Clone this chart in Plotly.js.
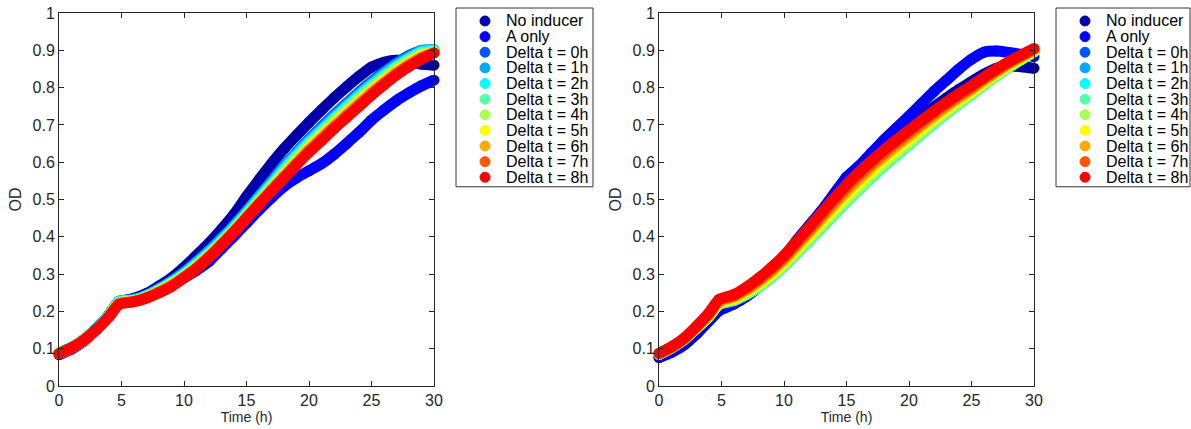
<!DOCTYPE html>
<html><head><meta charset="utf-8">
<script src="https://cdn.plot.ly/plotly-3.0.1.min.js"></script>
<style>html,body{margin:0;padding:0;background:#fff;}#chart{width:1191px;height:429px;}</style>
</head><body><div id="chart"></div>
<script>
// time points (h)
const hours = [0,1,2,3,4,4.8,6,7,8,9,10,11,12,13,14,15,16,17,18,19,20,21,22,23,24,25,26,27,28,29,30];

const seriesNames = ["No inducer","A only","Delta t = 0h","Delta t = 1h","Delta t = 2h","Delta t = 3h","Delta t = 4h","Delta t = 5h","Delta t = 6h","Delta t = 7h","Delta t = 8h"];
const seriesColors = ["rgb(0,0,170)","rgb(0,0,255)","rgb(0,85,255)","rgb(0,170,255)","rgb(0,255,255)","rgb(85,255,170)","rgb(170,255,85)","rgb(255,255,0)","rgb(255,170,0)","rgb(255,85,0)","rgb(255,0,0)"];
const xTicks = [0,5,10,15,20,25,30];

// ---- left panel OD ----
const L_noInducer = [.085,.1,.122,.152,.19,.224,.235,.248,.268,.29,.318,.35,.383,.42,.46,.508,.553,.596,.636,.672,.707,.74,.772,.802,.83,.855,.868,.873,.87,.863,.86];
const L_aOnly     = [.084,.099,.121,.152,.19,.225,.233,.243,.256,.272,.29,.31,.334,.368,.402,.437,.472,.505,.535,.558,.577,.596,.621,.65,.68,.713,.74,.765,.786,.805,.82];
const L_d0h = [.088,.103,.125,.155,.19,.227,.232,.244,.262,.282,.306,.334,.364,.397,.432,.47,.51,.55,.59,.627,.662,.695,.727,.758,.788,.816,.842,.866,.886,.9,.901];
const L_d1h = [.088,.103,.125,.155,.19,.227,.231,.243,.26,.28,.303,.331,.361,.394,.429,.467,.507,.546,.586,.623,.658,.69,.722,.753,.783,.811,.838,.862,.882,.899,.902];
const L_d2h = [.088,.103,.124,.154,.189,.226,.23,.241,.258,.278,.3,.328,.357,.39,.425,.463,.503,.541,.581,.618,.653,.685,.717,.748,.778,.806,.833,.857,.878,.896,.9];
const L_d3h = [.088,.103,.124,.153,.188,.224,.229,.24,.257,.276,.298,.325,.354,.387,.421,.459,.498,.537,.576,.613,.648,.68,.712,.743,.773,.801,.828,.853,.874,.892,.897];
const L_d4h = [.087,.102,.124,.153,.188,.223,.228,.239,.255,.274,.296,.322,.352,.384,.419,.457,.495,.533,.571,.608,.644,.676,.707,.738,.768,.797,.824,.849,.871,.889,.896];
const L_d5h = [.087,.102,.123,.153,.187,.222,.228,.238,.254,.272,.294,.32,.35,.382,.417,.455,.492,.53,.567,.603,.639,.671,.703,.733,.763,.792,.82,.845,.867,.886,.895];
const L_d6h = [.087,.102,.123,.152,.187,.221,.227,.237,.253,.27,.293,.318,.348,.381,.416,.453,.49,.527,.563,.599,.634,.666,.698,.728,.758,.788,.815,.841,.863,.882,.894];
const L_d7h = [.087,.102,.123,.152,.186,.22,.226,.236,.251,.268,.291,.316,.346,.379,.414,.451,.488,.525,.56,.596,.63,.662,.694,.724,.754,.784,.811,.837,.86,.879,.893];
const L_d8h = [.087,.102,.123,.152,.186,.219,.226,.236,.25,.267,.29,.315,.345,.378,.413,.45,.487,.523,.558,.593,.627,.658,.69,.72,.75,.78,.808,.834,.857,.877,.893];

// ---- right panel OD ----
const R_noInducer = [.076,.09,.11,.14,.175,.202,.22,.24,.266,.298,.337,.383,.425,.465,.505,.548,.58,.612,.642,.67,.695,.722,.748,.772,.795,.816,.836,.852,.858,.856,.852];
const R_aOnly     = [.077,.092,.112,.14,.175,.203,.222,.243,.27,.303,.345,.39,.43,.47,.515,.56,.59,.625,.66,.692,.724,.757,.79,.82,.85,.876,.895,.898,.894,.889,.883];
const R_d0h = [.085,.102,.124,.155,.187,.22,.23,.247,.268,.293,.323,.357,.392,.427,.462,.497,.531,.563,.593,.622,.65,.678,.706,.733,.759,.783,.808,.833,.855,.876,.896];
const R_d1h = [.085,.102,.124,.155,.187,.22,.231,.247,.268,.293,.323,.358,.392,.428,.463,.498,.531,.563,.594,.623,.651,.679,.707,.733,.759,.783,.808,.833,.856,.877,.896];
const R_d2h = [.085,.102,.125,.155,.187,.22,.231,.248,.268,.294,.324,.358,.393,.428,.463,.498,.532,.564,.594,.623,.651,.679,.707,.734,.759,.783,.809,.833,.856,.877,.896];
const R_d3h = [.085,.102,.124,.154,.186,.218,.229,.245,.265,.29,.32,.354,.388,.423,.458,.493,.526,.558,.589,.618,.646,.675,.703,.73,.756,.78,.806,.831,.854,.875,.895];
const R_d4h = [.086,.103,.125,.155,.188,.221,.232,.249,.27,.296,.326,.361,.396,.431,.467,.502,.535,.567,.598,.626,.654,.682,.71,.736,.762,.785,.81,.835,.857,.878,.897];
const R_d5h = [.086,.103,.126,.156,.19,.224,.235,.253,.275,.301,.332,.368,.403,.44,.476,.512,.545,.576,.607,.635,.662,.69,.717,.742,.767,.79,.815,.839,.86,.88,.899];
const R_d6h = [.087,.104,.126,.158,.192,.226,.239,.257,.28,.307,.338,.374,.411,.448,.485,.521,.554,.586,.615,.643,.67,.697,.723,.749,.773,.795,.819,.842,.864,.883,.901];
const R_d7h = [.087,.104,.127,.159,.194,.229,.242,.261,.285,.312,.344,.381,.418,.457,.494,.531,.564,.595,.624,.652,.678,.705,.73,.755,.778,.8,.824,.846,.867,.885,.903];
const R_d8h = [.088,.105,.128,.16,.196,.232,.245,.265,.29,.318,.35,.388,.426,.465,.503,.54,.573,.604,.633,.66,.686,.712,.737,.761,.784,.805,.828,.85,.87,.888,.905];

const leftSeries  = [L_noInducer,L_aOnly,L_d0h,L_d1h,L_d2h,L_d3h,L_d4h,L_d5h,L_d6h,L_d7h,L_d8h];
const rightSeries = [R_noInducer,R_aOnly,R_d0h,R_d1h,R_d2h,R_d3h,R_d4h,R_d5h,R_d6h,R_d7h,R_d8h];

// ---- layout geometry (pixels) ----
const W = 1191, H = 429;
const M = {l:59, r:157, t:13, b:42.5};
const PW = W - M.l - M.r, PH = H - M.t - M.b;
const px = x => (x - M.l) / PW;          // pixel x -> paper
const py = y => (H - M.b - y) / PH;      // pixel y -> paper
const INK = '#262626';

const traces = [];
function addPanel(list, xa, ya) {
  list.forEach((vals, i) => {
    traces.push({x: hours, y: vals, xaxis: xa, yaxis: ya, mode: 'lines', name: seriesNames[i],
      line: {color: seriesColors[i], width: 11, shape: 'spline', smoothing: 0.5},
      showlegend: false, hoverinfo: 'skip'});
    traces.push({x: hours, y: vals, xaxis: xa, yaxis: ya, mode: 'markers', name: seriesNames[i],
      marker: {color: seriesColors[i], size: 11}, cliponaxis: false, showlegend: false});
  });
}
addPanel(leftSeries, 'x', 'y');
addPanel(rightSeries, 'x2', 'y2');

function axisX(domain, anchor) {
  return {domain: domain, anchor: anchor, range: [0, 30], tickvals: xTicks, ticks: 'inside', ticklen: 5,
    tickwidth: 1, tickcolor: INK, showline: true, linecolor: INK, linewidth: 1, mirror: 'ticks',
    showgrid: false, zeroline: false, tickfont: {size: 16, color: INK},
    title: {text: 'Time (h)', font: {size: 14, color: INK}, standoff: 3}};
}
function axisY(anchor) {
  return {domain: [0, 1], anchor: anchor, range: [0, 1], dtick: 0.1, tick0: 0, ticks: 'inside', ticklen: 5,
    tickwidth: 1, tickcolor: INK, showline: true, linecolor: INK, linewidth: 1, mirror: 'ticks',
    showgrid: false, zeroline: false, tickfont: {size: 16, color: INK},
    title: {text: 'OD', font: {size: 16, color: INK}, standoff: 6}};
}

// custom legends (box + circle markers + labels)
const shapes = [], annotations = [];
function addLegend(offsetX, rightEdge) {
  shapes.push({type: 'rect', xref: 'paper', yref: 'paper', x0: px(456 + offsetX), x1: px(rightEdge),
    y0: py(187), y1: py(8), line: {color: '#333', width: 1}, fillcolor: 'rgba(255,255,255,1)', layer: 'above'});
  seriesNames.forEach((n, i) => {
    const cy = 21 + i * 15.65;
    shapes.push({type: 'circle', xref: 'paper', yref: 'paper', x0: px(480 + offsetX), x1: px(490 + offsetX),
      y0: py(cy + 5), y1: py(cy - 5), fillcolor: seriesColors[i], line: {color: seriesColors[i], width: 1}, layer: 'above'});
    annotations.push({xref: 'paper', yref: 'paper', x: px(504 + offsetX), y: py(cy), xanchor: 'left', yanchor: 'middle',
      text: n, showarrow: false, font: {size: 16, color: '#000'}});
  });
}
addLegend(0, 593);
addLegend(600, 1190);

const layout = {
  width: W, height: H, autosize: false,
  margin: {l: M.l, r: M.r, t: M.t, b: M.b, pad: 0},
  paper_bgcolor: '#fff', plot_bgcolor: '#fff',
  font: {family: 'Liberation Sans, Arial, Helvetica, sans-serif', color: INK},
  showlegend: false,
  xaxis: axisX([0, 375 / PW], 'y'),
  yaxis: axisY('x'),
  xaxis2: axisX([600 / PW, 1], 'y2'),
  yaxis2: axisY('x2'),
  shapes: shapes, annotations: annotations
};

Plotly.newPlot('chart', traces, layout, {displayModeBar: false, staticPlot: true});
</script>
</body></html>
